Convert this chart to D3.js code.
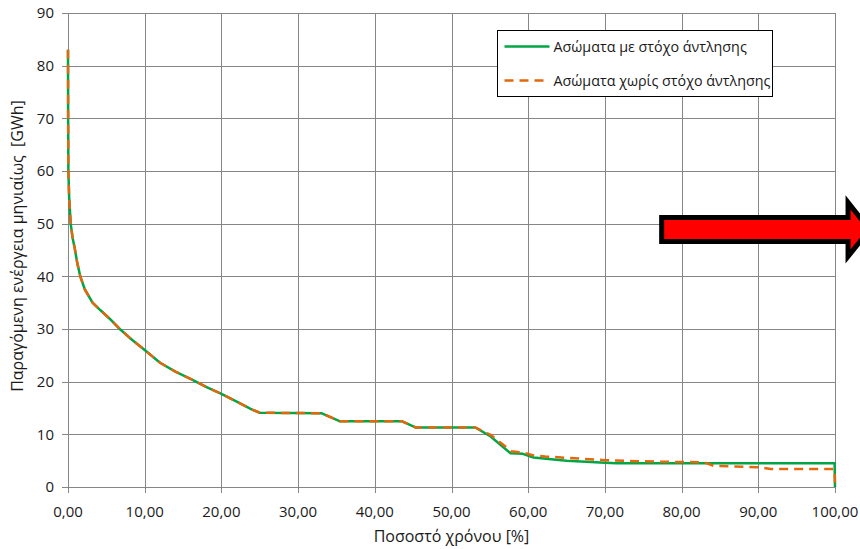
<!DOCTYPE html>
<html>
<head>
<meta charset="utf-8">
<script src="https://cdn.jsdelivr.net/npm/d3@7"></script>
<style>
  html, body { margin: 0; padding: 0; background: #ffffff; }
  svg { display: block; }
  text { font-family: "Open Sans", "Noto Sans", sans-serif; fill: #1a1a1a; white-space: pre; }
</style>
</head>
<body>
<svg id="chart" width="860" height="549"></svg>
<script>
// Duration curve: percentage of time (x) vs. monthly energy produced (GWh)
const seriesNames = ["Ασώματα με στόχο άντλησης", "Ασώματα χωρίς στόχο άντλησης"];

const withPumpX = [0, 0.02, 0.05, 0.15, 0.35, 0.6, 0.87, 1.2, 1.6, 2.2, 3.2, 4.2, 5.4, 6.75, 8.3, 10, 12, 14, 16.3, 18, 20, 22, 24, 25, 33.1, 35.4, 43.5, 45.3, 53.1, 55.1, 57.7, 59.3, 60.7, 65, 70, 71.5, 99.95, 100];
const withPumpY = [83, 70, 60, 55, 50, 47.3, 45.4, 42.6, 40, 37.5, 35, 33.6, 32, 30, 28, 26, 23.6, 21.9, 20.3, 19, 17.7, 16.2, 14.7, 14.1, 14.0, 12.5, 12.5, 11.3, 11.3, 9.6, 6.4, 6.3, 5.6, 5.0, 4.6, 4.5, 4.5, 0];

const noPumpX = [0, 0.02, 0.05, 0.15, 0.35, 0.6, 0.87, 1.2, 1.6, 2.2, 3.2, 4.2, 5.4, 6.75, 8.3, 10, 12, 14, 16.3, 18, 20, 22, 24, 25, 33.1, 35.4, 43.5, 45.3, 53.1, 55.1, 57.8, 59.5, 60.7, 62.2, 70, 77, 82.9, 84.2, 90.3, 91.6, 99.95, 100];
const noPumpY = [83, 70, 60, 55, 50, 47.3, 45.4, 42.6, 40, 37.5, 35, 33.6, 32, 30, 28, 26, 23.6, 21.9, 20.3, 19, 17.7, 16.2, 14.7, 14.1, 14.0, 12.5, 12.5, 11.3, 11.3, 9.9, 6.8, 6.5, 6.0, 5.8, 5.1, 4.8, 4.7, 4.0, 3.75, 3.4, 3.4, 0];

const xTicks = [0, 10, 20, 30, 40, 50, 60, 70, 80, 90, 100];
const yTicks = [0, 10, 20, 30, 40, 50, 60, 70, 80, 90];

const xTitle = "Ποσοστό χρόνου [%]";
const yTitle = "Παραγόμενη ενέργεια μηνιαίως  [GWh]";

const svg = d3.select("#chart");
const margin = { left: 68, right: 25, top: 13, bottom: 62 };
const W = 860, H = 549;

const x = d3.scaleLinear().domain([0, 100]).range([margin.left, W - margin.right]);
const y = d3.scaleLinear().domain([0, 90]).range([H - margin.bottom, margin.top]);

const gridColor = "#868686";
const fmt = d => d3.format(".2f")(d).replace(".", ",");

// gridlines with outward tick stubs
const grid = svg.append("g");
grid.selectAll("line.h").data(yTicks).join("line")
  .attr("x1", x(0) - 6).attr("x2", x(100))
  .attr("y1", d => Math.round(y(d)) + 0.5).attr("y2", d => Math.round(y(d)) + 0.5)
  .attr("stroke", gridColor).attr("stroke-width", 1);
grid.selectAll("line.v").data(xTicks).join("line")
  .attr("y1", y(90)).attr("y2", y(0) + 6)
  .attr("x1", d => Math.round(x(d)) + 0.5).attr("x2", d => Math.round(x(d)) + 0.5)
  .attr("stroke", gridColor).attr("stroke-width", 1);

// tick labels
svg.append("g").selectAll("text").data(yTicks).join("text")
  .attr("x", x(0) - 14).attr("y", d => y(d)).attr("dy", "0.35em")
  .attr("text-anchor", "end").attr("font-size", 15).text(d => d);
svg.append("g").selectAll("text").data(xTicks).join("text")
  .attr("x", d => x(d)).attr("y", y(0) + 30)
  .attr("text-anchor", "middle").attr("font-size", 15).text(fmt);

// axis titles
svg.append("text").attr("x", (x(0) + x(100)) / 2).attr("y", 542)
  .attr("text-anchor", "middle").attr("font-size", 16).text(xTitle);
svg.append("text")
  .attr("transform", `translate(23,${(y(0) + y(90)) / 2 - 4}) rotate(-90)`)
  .attr("text-anchor", "middle").attr("font-size", 16).text(yTitle);

// series
const line = d3.line().x(d => x(d[0])).y(d => y(d[1]));
const withPump = withPumpX.map((v, i) => [v, withPumpY[i]]);
const noPump = noPumpX.map((v, i) => [v, noPumpY[i]]);

svg.append("path").datum(withPump).attr("d", line)
  .attr("fill", "none").attr("stroke", "#00a645").attr("stroke-width", 2.5)
  .attr("stroke-linejoin", "round");
svg.append("path").datum(noPump).attr("d", line)
  .attr("fill", "none").attr("stroke", "#e2680e").attr("stroke-width", 2.5)
  .attr("stroke-dasharray", "9,6");

// legend
const lg = svg.append("g").attr("transform", "translate(497.5,30.5)");
lg.append("rect").attr("width", 275).attr("height", 66)
  .attr("fill", "#ffffff").attr("stroke", "#000000").attr("stroke-width", 1);
const legendStyles = [
  { color: "#00a645", dash: null },
  { color: "#e2680e", dash: "9,6" }
];
seriesNames.forEach((name, i) => {
  const yy = 16 + i * 34;
  lg.append("line").attr("x1", 7).attr("x2", 52).attr("y1", yy).attr("y2", yy)
    .attr("stroke", legendStyles[i].color).attr("stroke-width", 2.5)
    .attr("stroke-dasharray", legendStyles[i].dash);
  lg.append("text").attr("x", 56).attr("y", yy).attr("dy", "0.35em")
    .attr("font-size", 14.3).text(name);
});

// red arrow pointing right, partly outside the chart
const ax0 = x(77.4), ax1 = x(101.7), axTip = x(104.5);
const ay = y(48.9);
const bodyHalf = 12, headHalf = 27;
const arrowPts = [
  [ax0, ay - bodyHalf], [ax1, ay - bodyHalf], [ax1, ay - headHalf],
  [axTip, ay], [ax1, ay + headHalf], [ax1, ay + bodyHalf], [ax0, ay + bodyHalf]
];
svg.append("path").attr("d", d3.line()(arrowPts) + "Z")
  .attr("fill", "#ff0000").attr("stroke", "#000000").attr("stroke-width", 5)
  .attr("stroke-linejoin", "miter");
</script>
</body>
</html>
